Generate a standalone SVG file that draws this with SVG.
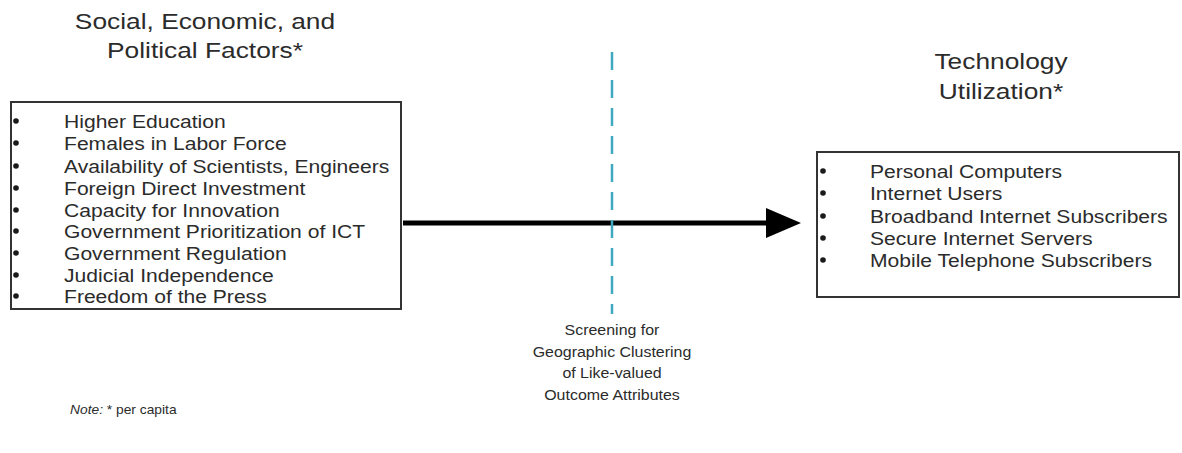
<svg xmlns="http://www.w3.org/2000/svg" width="1182" height="453" viewBox="0 0 1182 453">
<style>
text{font-family:"Liberation Sans",Arial,sans-serif;fill:#2b2b2b}
.title{font-size:22.5px;text-anchor:middle}
.item{font-size:18.5px}
.mid{font-size:14.5px;text-anchor:middle}
.note{font-size:12px}
.box{fill:#fff;stroke:#333;stroke-width:2}
.bullet{fill:#1a1a1a}
</style>
<defs>
<marker id="ah" markerWidth="8" markerHeight="6" refX="0" refY="3" orient="auto" markerUnits="strokeWidth">
<path d="M0,0 L7,3 L0,6 Z" fill="#000"/>
</marker>
</defs>
<rect width="1182" height="453" fill="#fff"/>
<g id="connectors">
<line x1="403" y1="223" x2="766" y2="223" stroke="#000" stroke-width="5" marker-end="url(#ah)"/>
<line x1="612" y1="52" x2="612" y2="314" stroke="#3fa9bf" stroke-width="2.5" stroke-dasharray="18,10"/>
</g>
<g id="factors">
<text class="title" transform="translate(205,29) scale(1.17,1)">Social, Economic, and</text>
<text class="title" transform="translate(205,58) scale(1.17,1)">Political Factors*</text>
<rect class="box" x="11" y="102" width="390" height="207"/>
<g class="bullet">
<circle cx="16" cy="121" r="2.8"/><circle cx="16" cy="143" r="2.8"/><circle cx="16" cy="166" r="2.8"/>
<circle cx="16" cy="188" r="2.8"/><circle cx="16" cy="210" r="2.8"/><circle cx="16" cy="231" r="2.8"/>
<circle cx="16" cy="253" r="2.8"/><circle cx="16" cy="275" r="2.8"/><circle cx="16" cy="296" r="2.8"/>
</g>
<text class="item" transform="translate(64,128) scale(1.14,1)">Higher Education</text>
<text class="item" transform="translate(64,150) scale(1.14,1)">Females in Labor Force</text>
<text class="item" transform="translate(64,173) scale(1.14,1)">Availability of Scientists, Engineers</text>
<text class="item" transform="translate(64,195) scale(1.14,1)">Foreign Direct Investment</text>
<text class="item" transform="translate(64,217) scale(1.14,1)">Capacity for Innovation</text>
<text class="item" transform="translate(64,238) scale(1.14,1)">Government Prioritization of ICT</text>
<text class="item" transform="translate(64,260) scale(1.14,1)">Government Regulation</text>
<text class="item" transform="translate(64,282) scale(1.14,1)">Judicial Independence</text>
<text class="item" transform="translate(64,303) scale(1.14,1)">Freedom of the Press</text>
</g>
<g id="technology">
<text class="title" transform="translate(1001,69) scale(1.17,1)">Technology</text>
<text class="title" transform="translate(1001,99) scale(1.17,1)">Utilization*</text>
<rect class="box" x="817" y="152" width="362" height="145"/>
<g class="bullet">
<circle cx="823" cy="171" r="2.8"/><circle cx="823" cy="193" r="2.8"/><circle cx="823" cy="216" r="2.8"/>
<circle cx="823" cy="238" r="2.8"/><circle cx="823" cy="260" r="2.8"/>
</g>
<text class="item" transform="translate(870,178) scale(1.14,1)">Personal Computers</text>
<text class="item" transform="translate(870,200) scale(1.14,1)">Internet Users</text>
<text class="item" transform="translate(870,223) scale(1.14,1)">Broadband Internet Subscribers</text>
<text class="item" transform="translate(870,245) scale(1.14,1)">Secure Internet Servers</text>
<text class="item" transform="translate(870,267) scale(1.14,1)">Mobile Telephone Subscribers</text>
</g>
<g id="screening">
<text class="mid" transform="translate(612,335) scale(1.1,1)">Screening for</text>
<text class="mid" transform="translate(612,357) scale(1.1,1)">Geographic Clustering</text>
<text class="mid" transform="translate(612,378) scale(1.1,1)">of Like-valued</text>
<text class="mid" transform="translate(612,400) scale(1.1,1)">Outcome Attributes</text>
</g>
<g id="note">
<text class="note" transform="translate(70,414) scale(1.15,1)"><tspan font-style="italic">Note:</tspan>  * per capita</text>
</g>
</svg>
